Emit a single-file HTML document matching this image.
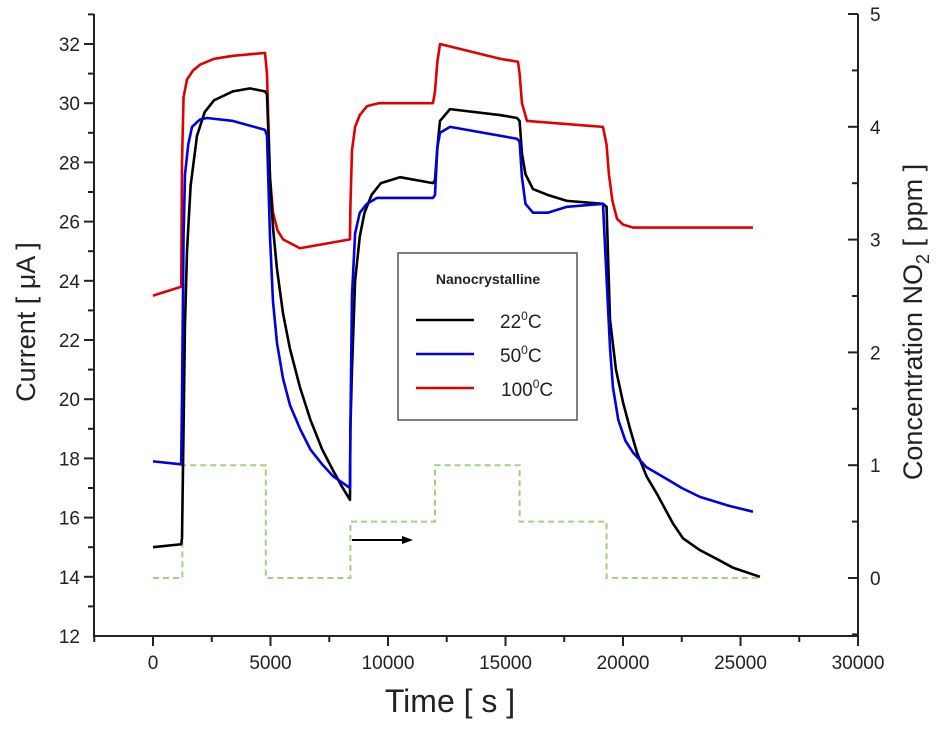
<!DOCTYPE html>
<html><head><meta charset="utf-8"><style>
body{margin:0;background:#fff;}
svg{display:block;font-family:"Liberation Sans",Arial,sans-serif;}
</style></head><body>
<svg id="chart" width="938" height="730"></svg>
<script>
const xTicks=[0,5000,10000,15000,20000,25000,30000];
const yTicks=[12,14,16,18,20,22,24,26,28,30,32];
const y2Ticks=[0,1,2,3,4,5];
const tBlack=[0,1200,1234,1300,1360,1447,1600,1872,2200,2600,3404,4127,4766,4850,4978,5106,5276,5532,5829,6255,6700,7200,7659,8000,8382,8400,8467,8600,8800,9000,9300,9700,10510,11914,12000,12100,12212,12638,14765,15488,15600,15700,15850,16169,16800,17616,19148,19300,19446,19700,19999,20300,20594,21000,21445,22126,22552,23275,23998,24700,25828];
const iBlack=[15.0,15.1,15.3,19.0,22.5,25.0,27.2,28.9,29.7,30.1,30.4,30.5,30.4,30.3,27.5,25.8,24.4,22.9,21.7,20.4,19.3,18.3,17.6,17.1,16.6,19.0,21.0,24.0,25.5,26.3,26.9,27.3,27.5,27.3,27.4,28.5,29.4,29.8,29.6,29.5,29.4,28.3,27.6,27.1,26.9,26.7,26.6,26.5,22.7,21.0,19.9,19.0,18.2,17.4,16.8,15.8,15.3,14.9,14.6,14.3,14.0];
const tBlue=[0,1200,1234,1300,1362,1500,1660,2000,2298,3404,4766,4851,4978,5106,5276,5532,5829,6255,6700,7200,7659,8382,8400,8467,8600,8800,9100,9531,11914,12000,12100,12212,12638,15488,15600,15700,15850,16169,16800,17616,19148,19318,19450,19573,19800,20100,20424,21000,21871,22500,23275,24500,25530];
const iBlue=[17.9,17.8,20.0,25.5,27.6,28.6,29.2,29.45,29.5,29.4,29.1,28.9,25.5,23.3,21.9,20.7,19.8,19.0,18.3,17.8,17.4,17.0,19.0,23.5,25.6,26.3,26.6,26.8,26.8,26.9,28.5,29.0,29.2,28.8,28.7,27.5,26.6,26.3,26.3,26.5,26.6,23.8,21.7,20.4,19.3,18.6,18.2,17.7,17.3,17.0,16.7,16.4,16.2];
const tRed=[0,1200,1234,1300,1447,1700,2000,2600,3404,4766,4850,4978,5106,5300,5532,6255,8382,8400,8467,8600,8800,9106,9600,11914,12000,12100,12212,14765,15531,15600,15700,15914,19148,19300,19400,19550,19743,20000,20424,25530];
const iRed=[23.5,23.8,28.0,30.2,30.8,31.1,31.3,31.5,31.6,31.7,31.0,27.5,26.3,25.7,25.4,25.1,25.4,26.5,28.4,29.2,29.6,29.9,30.0,30.0,30.4,31.4,32.0,31.5,31.4,31.0,30.0,29.4,29.2,28.6,27.6,26.7,26.1,25.9,25.8,25.8];
const tConc=[0,1250,1250,4800,4800,8400,8400,12000,12000,15600,15600,19300,19300,25900];
const cConc=[0,0,1,1,0,0,0.5,0.5,1,1,0.5,0.5,0,0];

const NS="http://www.w3.org/2000/svg";
const svg=document.getElementById('chart');
const L=94,R=858,T=14,B=636;
const xs=t=>153+(t-0)*(858-153)/30000;
const ys=v=>44+(32-v)*29.6;
const ys2=c=>578-c*112.8;
function mk(tag,attrs,parent){const e=document.createElementNS(NS,tag);for(const k in attrs)e.setAttribute(k,attrs[k]);(parent||svg).appendChild(e);return e;}

let a=mk('line',{x1:L,y1:T,x2:L,y2:B,stroke:'#222','stroke-width':2});


a=mk('line',{x1:R,y1:T,x2:R,y2:B,stroke:'#222','stroke-width':2});


a=mk('line',{x1:L-1,y1:B,x2:R+1,y2:B,stroke:'#222','stroke-width':2});



for(let t=-2500;t<=30000;t+=2500){
  const major=t%5000===0;
  const tk=mk('line',{x1:xs(t),y1:B,x2:xs(t),y2:B+(major?10:6),stroke:'#222','stroke-width':2});
  
  
}
xTicks.forEach(t=>{
  const tx=mk('text',{x:xs(t),y:669,'text-anchor':'middle','font-size':19,fill:'#222'});
  tx.textContent=t;
  
  
});
for(let v=13;v<=33;v+=1){
  const major=v%2===0;
  const tk=mk('line',{x1:L,y1:ys(v),x2:L-(major?10:6),y2:ys(v),stroke:'#222','stroke-width':2});
  
  
}
yTicks.forEach(v=>{
  const tx=mk('text',{x:80,y:ys(v)+7,'text-anchor':'end','font-size':19,fill:'#222'});
  tx.textContent=v;
  
  
});
for(let c=-0.5;c<=5;c+=0.5){
  const major=c%1===0;
  const tk=mk('line',{x1:R,y1:ys2(c),x2:R-(major?10:6),y2:ys2(c),stroke:'#222','stroke-width':2});
  
  
}
y2Ticks.forEach(c=>{
  const tx=mk('text',{x:870,y:ys2(c)+7,'text-anchor':'start','font-size':19,fill:'#222'});
  tx.textContent=c;
  
  
});

let pts=tConc.map((t,i)=>xs(t)+','+ys2(cConc[i])).join(' ');
let pl=mk('polyline',{points:pts,fill:'none',stroke:'#9fd27f','stroke-width':2,'stroke-dasharray':'6,4'});



function series(ts,vs,color,name){
  const p=ts.map((t,i)=>xs(t)+','+ys(vs[i])).join(' ');
  const e=mk('polyline',{points:p,fill:'none',stroke:color,'stroke-width':2.6,'stroke-linejoin':'round'});
  
  
}
series(tRed,iRed,'#e00000','series-100c');
series(tBlack,iBlack,'#000','series-22c');
series(tBlue,iBlue,'#0000e0','series-50c');

let ar=mk('line',{x1:352,y1:540,x2:405,y2:540,stroke:'#000','stroke-width':2});


let ah=mk('polygon',{points:'413,540 402,536 402,544',fill:'#000'});



const g=mk('g',{});


mk('rect',{x:398,y:253,width:179,height:167,fill:'#fff',stroke:'#555','stroke-width':1.5},g);
let lt=mk('text',{x:488,y:284,'text-anchor':'middle','font-size':14,'font-weight':'bold',fill:'#222'},g);
lt.textContent='Nanocrystalline';


[['#000','22','legend-entry-22c',320],['#0000e0','50','legend-entry-50c',354],['#e00000','100','legend-entry-100c',388]].forEach(([c,lab,nm,y])=>{
  const ln=mk('line',{x1:416,y1:y,x2:474,y2:y,stroke:c,'stroke-width':2.6},g);
  
  
  const tx=mk('text',{x:lab==='100'?501:500,y:y+8,'font-size':19,fill:'#222'},g);
  tx.innerHTML=lab+'<tspan dy="-8" font-size="12">0</tspan><tspan dy="8">C</tspan>';
  
  
});

let yt=mk('text',{transform:'translate(35,322) rotate(-90)','text-anchor':'middle','font-size':27,fill:'#222'});
yt.textContent='Current  [ \u03bcA ]';


let xt=mk('text',{x:450,y:712,'text-anchor':'middle','font-size':32,fill:'#222'});
xt.textContent='Time  [ s ]';


let y2t=mk('text',{transform:'translate(922,322) rotate(-90)','text-anchor':'middle','font-size':27,fill:'#222'});
y2t.innerHTML='Concentration NO<tspan dy="7" font-size="18">2</tspan><tspan dy="-7">  [ ppm ]</tspan>';


</script>
</body></html>
